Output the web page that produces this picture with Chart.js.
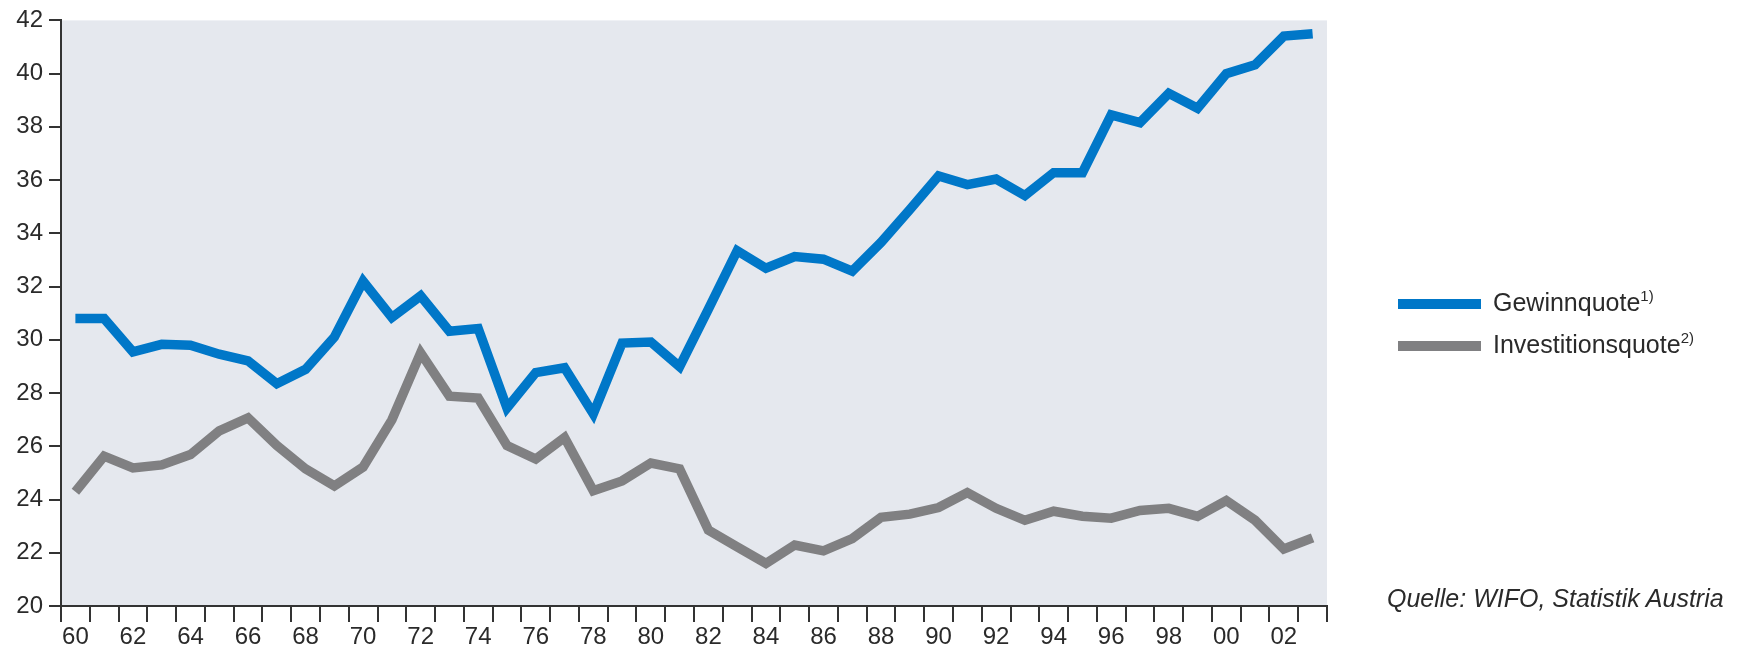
<!DOCTYPE html>
<html>
<head>
<meta charset="utf-8">
<script src="https://cdn.jsdelivr.net/npm/chart.js@4.4.1/dist/chart.umd.min.js"></script>
<style>
  html, body { margin: 0; padding: 0; background: #ffffff; }
  #wrap { position: relative; width: 1744px; height: 648px; font-family: "Liberation Sans", Arial, sans-serif; color: #2a2a2a; }
  #c { position: absolute; left: 0; top: 0; }
  .leg { position: absolute; left: 1398px; font-size: 25px; line-height: 1; white-space: nowrap; }
  .leg .sw { display: inline-block; width: 83px; height: 10px; vertical-align: middle; margin-right: 12px; }
  .leg sup { font-size: 15px; vertical-align: 0; position: relative; top: -10px; }
  #src { position: absolute; left: 1387px; top: 584px; font-size: 25px; font-style: italic; white-space: nowrap; }
</style>
</head>
<body>
<div id="wrap">
  <canvas id="c" width="1744" height="648"></canvas>
  <div class="leg" id="leg1" style="top:290px;"><span class="sw" style="background:#0077c8"></span>Gewinnquote<sup>1)</sup></div>
  <div class="leg" id="leg2" style="top:332px;"><span class="sw" style="background:#808082"></span>Investitionsquote<sup>2)</sup></div>
  <div id="src">Quelle: WIFO, Statistik Austria</div>
</div>
<script>
const years = ["60","61","62","63","64","65","66","67","68","69",
               "70","71","72","73","74","75","76","77","78","79",
               "80","81","82","83","84","85","86","87","88","89",
               "90","91","92","93","94","95","96","97","98","99",
               "00","01","02","03"];
const gewinnquote = [30.8, 30.8, 29.55, 29.83, 29.8, 29.46, 29.21, 28.35, 28.89, 30.1,
                     32.2, 30.84, 31.65, 30.32, 30.42, 27.44, 28.77, 28.95, 27.22, 29.88,
                     29.92, 28.99, 31.15, 33.35, 32.69, 33.13, 33.03, 32.58, 33.66, 34.89,
                     36.16, 35.83, 36.04, 35.42, 36.28, 36.28, 38.45, 38.16, 39.26, 38.7,
                     40.0, 40.33, 41.41, 41.5];
const investitionsquote = [24.29, 25.63, 25.19, 25.3, 25.69, 26.58, 27.07, 26.03, 25.15, 24.51,
                           25.22, 26.99, 29.51, 27.88, 27.81, 26.03, 25.52, 26.33, 24.33, 24.7,
                           25.37, 25.15, 22.85, 22.22, 21.6, 22.29, 22.07, 22.53, 23.33, 23.45,
                           23.7, 24.26, 23.67, 23.22, 23.56, 23.37, 23.3, 23.59, 23.67, 23.37,
                           23.96, 23.22, 22.14, 22.56];
const yTicks = [20, 22, 24, 26, 28, 30, 32, 34, 36, 38, 40, 42];

const bgPlugin = {
  id: 'plotBg',
  beforeDraw(chart) {
    const a = chart.chartArea, ctx = chart.ctx;
    ctx.save();
    ctx.fillStyle = '#e5e8ee';
    ctx.fillRect(a.left, a.top, a.right - a.left, a.bottom - a.top);
    ctx.restore();
  }
};

new Chart(document.getElementById('c'), {
  type: 'line',
  data: {
    labels: years,
    datasets: [
      { label: 'Investitionsquote', data: investitionsquote, borderColor: '#808082', borderWidth: 9.5,
        pointRadius: 0, tension: 0, borderJoinStyle: 'miter', borderCapStyle: 'butt', fill: false },
      { label: 'Gewinnquote', data: gewinnquote, borderColor: '#0077c8', borderWidth: 9.5,
        pointRadius: 0, tension: 0, borderJoinStyle: 'miter', borderCapStyle: 'butt', fill: false }
    ]
  },
  options: {
    responsive: false,
    animation: false,
    events: [],
    layout: { padding: { top: 17, right: 417, left: 0, bottom: 0 } },
    plugins: { legend: { display: false }, tooltip: { enabled: false } },
    scales: {
      x: {
        type: 'category',
        offset: true,
        afterFit(s) { s.height = 42; },
        grid: { offset: true, drawOnChartArea: false, drawTicks: true, tickLength: 16, color: '#333', lineWidth: 2 },
        border: { display: true, color: '#333', width: 2 },
        ticks: {
          autoSkip: false, maxRotation: 0, minRotation: 0, padding: 1,
          color: '#2a2a2a', font: { family: 'Liberation Sans', size: 24 },
          callback(v, i) { return i % 2 === 0 ? years[i] : ''; }
        }
      },
      y: {
        min: 20, max: 42,
        afterFit(s) { s.width = 61; },
        afterBuildTicks(s) { s.ticks = yTicks.map(v => ({ value: v })); },
        grid: { drawOnChartArea: false, drawTicks: true, tickLength: 12, color: '#333', lineWidth: 2 },
        border: { display: true, color: '#333', width: 2 },
        ticks: { padding: 6, color: '#2a2a2a', font: { family: 'Liberation Sans', size: 24 } }
      }
    }
  },
  plugins: [bgPlugin]
});
</script>
</body>
</html>
